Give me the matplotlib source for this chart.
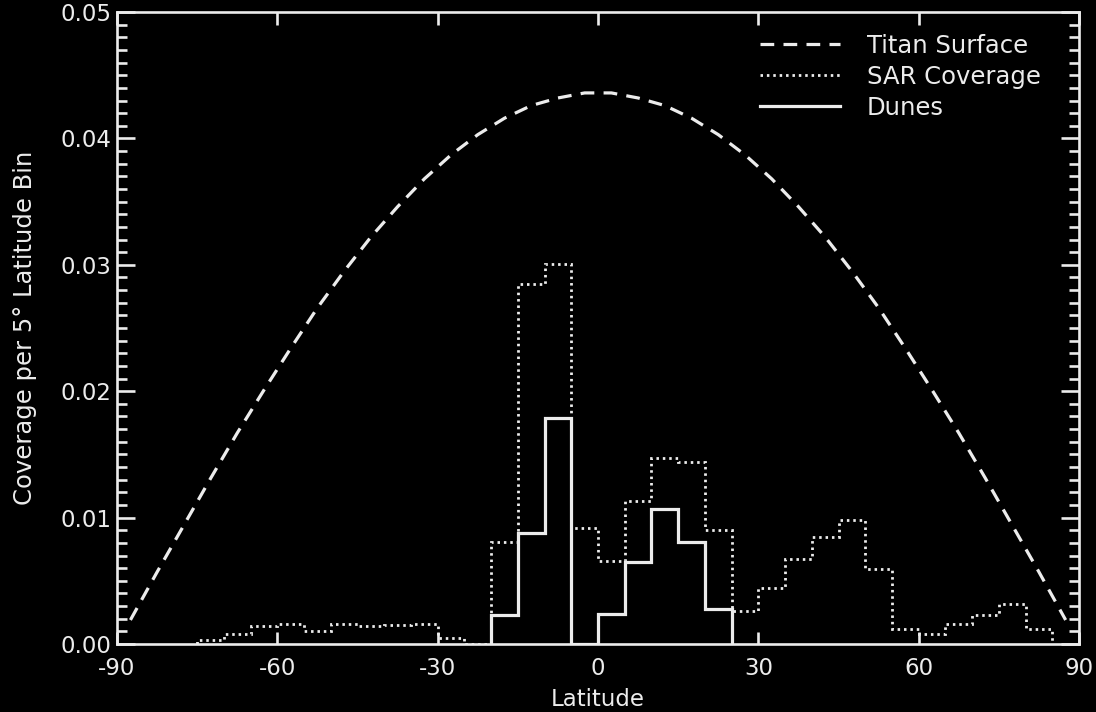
import matplotlib.pyplot as plt
from matplotlib.ticker import MultipleLocator, FormatStrFormatter

plt.rcParams['axes.unicode_minus'] = False
plt.rcParams['font.family'] = 'DejaVu Sans'

fg = '#ececec'

# Titan surface fraction per 5 deg bin (bin centres)
titan_lat = [-87.5, -82.5, -77.5, -72.5, -67.5, -62.5, -57.5, -52.5, -47.5,
             -42.5, -37.5, -32.5, -27.5, -22.5, -17.5, -12.5, -7.5, -2.5,
             2.5, 7.5, 12.5, 17.5, 22.5, 27.5, 32.5, 37.5, 42.5, 47.5,
             52.5, 57.5, 62.5, 67.5, 72.5, 77.5, 82.5, 87.5]
titan_cov = [0.0019, 0.0057, 0.0094, 0.0131, 0.0167, 0.0201, 0.0234, 0.0266, 0.0295,
             0.0322, 0.0346, 0.0368, 0.0387, 0.0403, 0.0416, 0.0426, 0.0432, 0.0436,
             0.0436, 0.0432, 0.0426, 0.0416, 0.0403, 0.0387, 0.0368, 0.0346, 0.0322,
             0.0295, 0.0266, 0.0234, 0.0201, 0.0167, 0.0131, 0.0094, 0.0057, 0.0019]

# SAR coverage histogram, bins from -75 to 85
sar_edges = list(range(-75, 90, 5))
sar_cov = [0.0003, 0.0008, 0.0014, 0.0016, 0.0010, 0.0016, 0.0014, 0.0015,
           0.0016, 0.0005, 0.0000, 0.0081, 0.0285, 0.0301, 0.0092, 0.0066,
           0.0113, 0.0147, 0.0144, 0.0090, 0.0026, 0.0044, 0.0067, 0.0085,
           0.0098, 0.0059, 0.0012, 0.0008, 0.0016, 0.0023, 0.0032, 0.0012]

# Dunes histogram, bins from -20 to 25
dune_edges = list(range(-20, 30, 5))
dune_cov = [0.0023, 0.0088, 0.0179, 0.0000, 0.0024, 0.0065, 0.0107, 0.0081, 0.0028]

fig = plt.figure(figsize=(10.96, 7.12), dpi=100, facecolor='black')
ax = fig.add_axes([0.1068, 0.0955, 0.8777, 0.8876], facecolor='black')

ax.plot(titan_lat, titan_cov, color=fg, lw=2.3, dashes=(4.3, 2.9), label='Titan Surface')
ax.stairs(sar_cov, sar_edges, color=fg, lw=2.0, linestyle=(0, (0.9, 1.4)), label='SAR Coverage')
ax.stairs(dune_cov, dune_edges, color=fg, lw=2.3, label='Dunes')

ax.set_xlim(-90, 90)
ax.set_ylim(0, 0.05)
ax.xaxis.set_major_locator(MultipleLocator(30))
ax.yaxis.set_major_locator(MultipleLocator(0.01))
ax.yaxis.set_minor_locator(MultipleLocator(0.001))
ax.yaxis.set_major_formatter(FormatStrFormatter('%.2f'))

for s in ax.spines.values():
    s.set_color(fg)
    s.set_linewidth(1.9)

ax.tick_params(axis='both', which='both', direction='in', colors=fg,
               top=True, right=True, labelsize=16.5, width=1.9)
ax.tick_params(axis='x', which='major', length=9, pad=9)
ax.tick_params(axis='y', which='major', length=13, pad=4)
ax.tick_params(axis='y', which='minor', length=7)

ax.set_xlabel('Latitude', color=fg, fontsize=16.5, labelpad=6)
ax.set_ylabel('Coverage per 5° Latitude Bin', color=fg, fontsize=17.5)
ax.yaxis.set_label_coords(-0.083, 0.5)

leg = ax.legend(loc='upper left', bbox_to_anchor=(0.668, 0.966), frameon=False,
                fontsize=17.5, handlelength=3.3, handletextpad=1.1,
                labelspacing=0.29, borderaxespad=0, borderpad=0)
for t in leg.get_texts():
    t.set_color(fg)

plt.savefig('out.png', dpi=100, facecolor='black')
